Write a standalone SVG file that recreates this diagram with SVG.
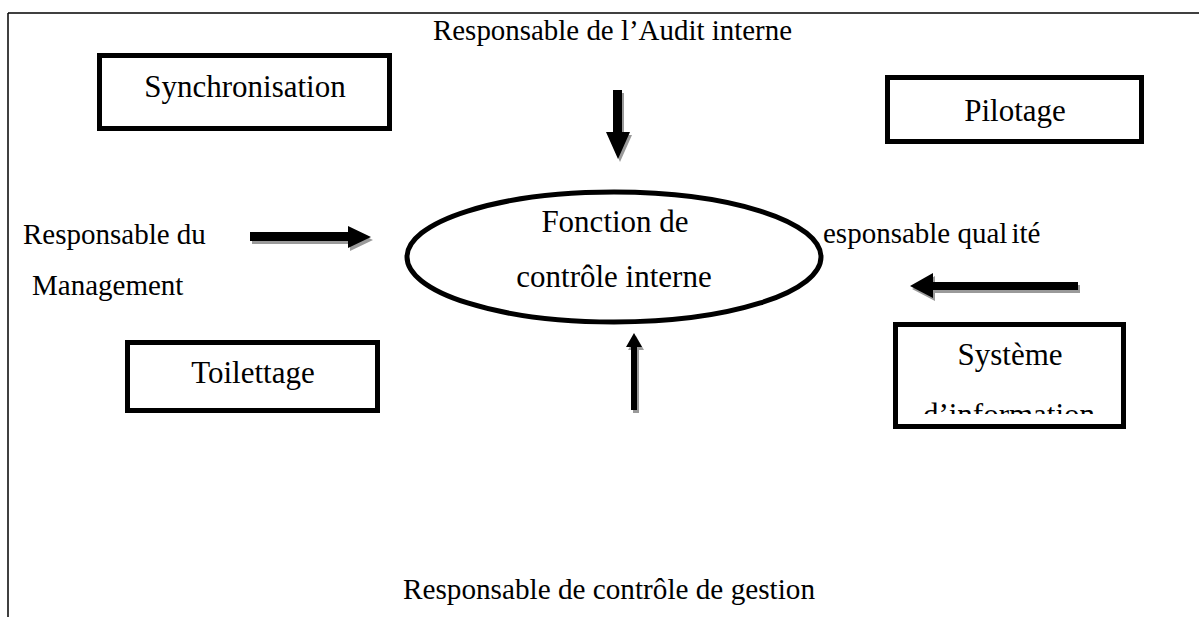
<svg xmlns="http://www.w3.org/2000/svg" width="1199" height="617" viewBox="0 0 1199 617">
<style>
.t{font-family:"Liberation Serif","Times New Roman",serif;font-size:29px;fill:#000}
.b{font-family:"Liberation Serif","Times New Roman",serif;font-size:31px;fill:#000}
.box{fill:#fff;stroke:#000;stroke-width:5}
.arr{fill:#000}
.sh{fill:#9a9a9a}
</style>
<defs>
<clipPath id="clipSI"><rect x="898" y="327" width="223" height="87"/></clipPath>
</defs>
<rect x="0" y="0" width="1199" height="617" fill="#fff"/>
<g id="frame" stroke="#000" stroke-width="1.5" fill="none">
<line x1="8" y1="13" x2="1199" y2="13"/>
<line x1="8" y1="13" x2="8" y2="617"/>
</g>
<g id="audit"><text class="t" x="433" y="40" textLength="359" lengthAdjust="spacingAndGlyphs">Responsable de l’Audit interne</text></g>
<g id="synchronisation">
<rect class="box" x="99.5" y="55.5" width="290" height="73"/>
<text class="b" x="245" y="97" text-anchor="middle">Synchronisation</text>
</g>
<g id="pilotage">
<rect class="box" x="887.5" y="77.5" width="254" height="64"/>
<text class="b" x="1015" y="121" text-anchor="middle">Pilotage</text>
</g>
<g id="management">
<text class="t" x="23" y="244">Responsable du</text>
<text class="t" x="32" y="295">Management</text>
</g>
<g id="fonction">
<ellipse cx="614" cy="257" rx="207" ry="65" fill="#fff" stroke="#000" stroke-width="5"/>
<text class="b" x="615" y="232" text-anchor="middle">Fonction de</text>
<text class="b" x="614" y="287" text-anchor="middle">contrôle interne</text>
</g>
<g id="qualite"><text class="t" x="823" y="243">esponsable qual<tspan dx="4">ité</tspan></text></g>
<g id="toilettage">
<rect class="box" x="127.5" y="342.5" width="250" height="68"/>
<text class="b" x="253" y="383" text-anchor="middle">Toilettage</text>
</g>
<g id="systeme">
<rect class="box" x="895.5" y="324.5" width="228" height="102"/>
<text class="b" x="1010" y="365" text-anchor="middle">Système</text>
<g clip-path="url(#clipSI)"><text class="b" x="1009" y="425" text-anchor="middle">d’information</text></g>
</g>
<g id="controle-gestion"><text class="t" x="403" y="599" textLength="412" lengthAdjust="spacingAndGlyphs">Responsable de contrôle de gestion</text></g>
<g id="connectors">
<g transform="translate(2,3)" class="sh">
<polygon points="613,90 622,90 622,132 630,132 618,159 606,132 613,132"/>
<polygon points="250,232 348,232 348,226 371,237 348,248 348,241 250,241"/>
<polygon points="1078,282 933,282 933,273 910,286 933,298 933,290 1078,290"/>
<polygon points="637,410 631,410 631,347 626,347 634,333 642,347 637,347"/>
</g>
<polygon class="arr" points="613,90 622,90 622,132 630,132 618,159 606,132 613,132"/>
<polygon class="arr" points="250,232 348,232 348,226 371,237 348,248 348,241 250,241"/>
<polygon class="arr" points="1078,282 933,282 933,273 910,286 933,298 933,290 1078,290"/>
<polygon class="arr" points="637,410 631,410 631,347 626,347 634,333 642,347 637,347"/>
</g>
</svg>
